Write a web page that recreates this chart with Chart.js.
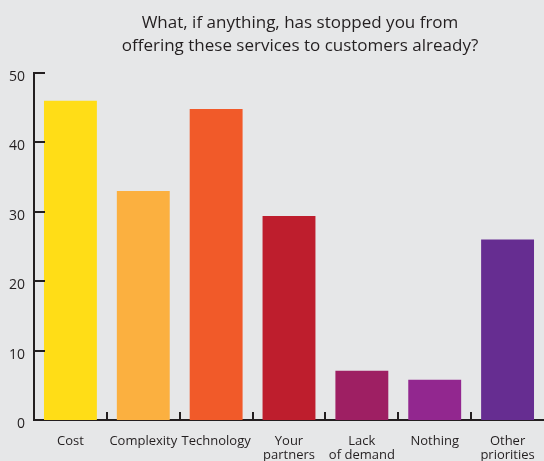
<!DOCTYPE html>
<html>
<head>
<meta charset="utf-8">
<script src="https://cdn.jsdelivr.net/npm/chart.js@4"></script>
<style>
  html, body { margin: 0; padding: 0; background: #e6e7e8; }
  #wrap { width: 544px; height: 461px; }
</style>
</head>
<body>
<div id="wrap"><canvas id="myChart"></canvas></div>
<script>
"use strict";

const categories = ["Cost", "Complexity", "Technology", ["Your", "partners"], ["Lack", "of demand"], "Nothing", ["Other", "priorities"]];
const values = [46, 33, 44.8, 29.4, 7.1, 5.8, 26];
const barColors = ["#ffdd17", "#fbb040", "#f15a29", "#be1e2d", "#9e1f63", "#92278f", "#662d91"];
const yTicks = [0, 10, 20, 30, 40, 50];
const titleLines = ["What, if anything, has stopped you from", "offering these services to customers already?"];

const ink = "#231f20";
const fontFamily = "'Open Sans', 'Noto Sans', sans-serif";

// petits traits vers l'intérieur + titre
const decoPlugin = {
    id: "deco",
    afterDraw(chart) {
        const c = chart.ctx;
        const x = chart.scales.x;
        const y = chart.scales.y;
        const area = chart.chartArea;
        c.save();
        c.strokeStyle = ink;
        c.lineWidth = 2;
        c.beginPath();
        yTicks.forEach(v => {
            if (v === 0) return;
            const py = Math.round(y.getPixelForValue(v));
            c.moveTo(area.left, py);
            c.lineTo(area.left + 11, py);
        });
        for (let i = 1; i < categories.length; i++) {
            const px = Math.round((x.getPixelForValue(i - 1) + x.getPixelForValue(i)) / 2);
            c.moveTo(px, area.bottom);
            c.lineTo(px, area.bottom - 8);
        }
        c.stroke();

        c.fillStyle = ink;
        c.font = "17px " + fontFamily;
        c.textAlign = "center";
        c.textBaseline = "alphabetic";
        c.fillText(titleLines[0], 300, 28);
        c.fillText(titleLines[1], 300, 51);
        c.restore();
    }
};

const ctx = document.getElementById("myChart");

let chart = new Chart(ctx, {
    type: "bar",
    data: {
        labels: categories,
        datasets: [{
            data: values,
            backgroundColor: barColors,
            borderWidth: 0,
            barPercentage: 0.726,
            categoryPercentage: 1
        }]
    },
    options: {
        responsive: true,
        maintainAspectRatio: false,
        animation: false,
        layout: { padding: { top: 73, right: 0, left: 0, bottom: 0 } },
        plugins: {
            legend: { display: false },
            tooltip: { enabled: false }
        },
        scales: {
            x: {
                grid: { display: false, drawTicks: false, tickLength: 0 },
                border: { display: true, color: ink, width: 2 },
                ticks: {
                    color: ink,
                    font: { family: fontFamily, size: 13, lineHeight: 1.1 },
                    padding: 14,
                    maxRotation: 0,
                    autoSkip: false
                },
                afterFit(scale) {
                    scale.height = 41;
                    scale.paddingLeft = 0;
                    scale.paddingRight = 0;
                }
            },
            y: {
                min: 0,
                max: 50,
                grid: { display: false, drawTicks: false, tickLength: 0 },
                border: { display: true, color: ink, width: 2 },
                ticks: {
                    stepSize: 10,
                    color: ink,
                    font: { family: fontFamily, size: 14 },
                    padding: 9,
                    labelOffset: 4
                },
                afterFit(scale) { scale.width = 34; }
            }
        }
    },
    plugins: [decoPlugin]
});
</script>
</body>
</html>
